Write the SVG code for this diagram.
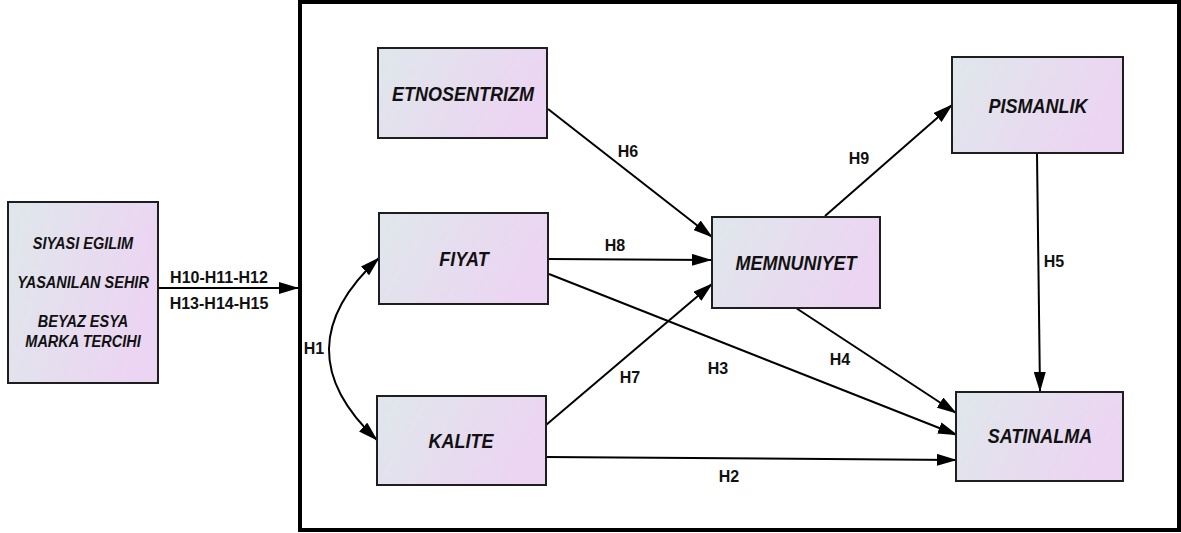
<svg xmlns="http://www.w3.org/2000/svg" width="1181" height="533" viewBox="0 0 1181 533">
  <style>
    .box { fill: url(#boxFill); stroke: #1e1e1e; stroke-width: 2; }
    .name { font-family: "Liberation Sans", Arial, sans-serif; font-weight: bold; font-style: italic; font-size: 18px; fill: #111; text-anchor: middle; }
    .side { font-family: "Liberation Sans", Arial, sans-serif; font-weight: bold; font-style: italic; font-size: 14.5px; fill: #111; text-anchor: middle; }
    .hyp { font-family: "Liberation Sans", Arial, sans-serif; font-weight: bold; font-size: 16px; fill: #111; text-anchor: middle; }
    .edge { fill: none; stroke: #000; stroke-width: 2; marker-end: url(#arrow); }
  </style>
  <defs>
    <linearGradient id="boxFill" x1="0" y1="0" x2="1" y2="0.3">
      <stop offset="0" stop-color="#dfe7eb"/>
      <stop offset="1" stop-color="#ecd5f2"/>
    </linearGradient>
    <marker id="arrow" markerUnits="userSpaceOnUse" markerWidth="20" markerHeight="12" refX="19" refY="6" orient="auto-start-reverse">
      <path d="M0,0 L20,6 L0,12 Z" fill="#000"/>
    </marker>
  </defs>

  <rect width="1181" height="533" fill="#fff"/>

  <!-- model frame -->
  <rect x="300" y="2" width="879" height="528" fill="none" stroke="#000" stroke-width="4"/>

  <g id="connectors">
    <path class="edge" d="M158,288 L298,288"/>
    <path class="edge" d="M548,109 L712,237"/>
    <path class="edge" d="M549,259 L711,260"/>
    <path class="edge" d="M549,274 L957,435"/>
    <path class="edge" d="M546,425 L712,284"/>
    <path class="edge" d="M546,457 L956,460"/>
    <path class="edge" d="M796,308 L956,413"/>
    <path class="edge" d="M825,216 L952,105"/>
    <path class="edge" d="M1037,154 L1040,391"/>
    <path class="edge" d="M379,258 Q280,349 377,440" marker-start="url(#arrow)"/>

    <text class="hyp" x="219" y="283">H10-H11-H12</text>
    <text class="hyp" x="219" y="309">H13-H14-H15</text>
    <text class="hyp" x="628" y="157">H6</text>
    <text class="hyp" x="615" y="251">H8</text>
    <text class="hyp" x="859" y="164">H9</text>
    <text class="hyp" x="1054" y="267">H5</text>
    <text class="hyp" x="314" y="354">H1</text>
    <text class="hyp" x="630" y="383">H7</text>
    <text class="hyp" x="718" y="374">H3</text>
    <text class="hyp" x="840" y="365">H4</text>
    <text class="hyp" x="729" y="482">H2</text>
  </g>

  <g id="controls">
    <rect class="box" x="8" y="202" width="150" height="181"/>
    <text class="side" transform="translate(83,249) scale(1,1.2)">SIYASI EGILIM</text>
    <text class="side" transform="translate(83,288) scale(1,1.2)">YASANILAN SEHIR</text>
    <text class="side" transform="translate(83,327) scale(1,1.2)">BEYAZ ESYA</text>
    <text class="side" transform="translate(83,347) scale(1,1.2)">MARKA TERCIHI</text>
  </g>

  <g id="etnosentrizm">
    <rect class="box" x="378" y="48" width="169" height="90"/>
    <text class="name" transform="translate(463,101) scale(1,1.15)">ETNOSENTRIZM</text>
  </g>

  <g id="fiyat">
    <rect class="box" x="379" y="213" width="169" height="91"/>
    <text class="name" transform="translate(464,266) scale(1,1.15)">FIYAT</text>
  </g>

  <g id="kalite">
    <rect class="box" x="377" y="396" width="169" height="89"/>
    <text class="name" transform="translate(461,448) scale(1,1.15)">KALITE</text>
  </g>

  <g id="memnuniyet">
    <rect class="box" x="712" y="217" width="168" height="91"/>
    <text class="name" transform="translate(796,270) scale(1,1.15)">MEMNUNIYET</text>
  </g>

  <g id="pismanlik">
    <rect class="box" x="952" y="57" width="171" height="96"/>
    <text class="name" transform="translate(1038,113) scale(1,1.15)">PISMANLIK</text>
  </g>

  <g id="satinalma">
    <rect class="box" x="956" y="392" width="167" height="89"/>
    <text class="name" transform="translate(1040,443) scale(1,1.15)">SATINALMA</text>
  </g>
</svg>
